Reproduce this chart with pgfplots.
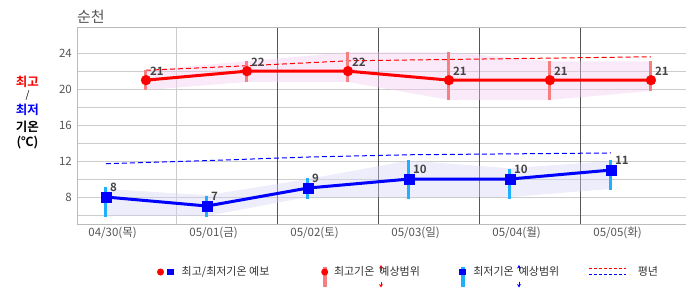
\documentclass[border=0pt]{standalone}
\usepackage{pgfplots}
\pgfplotsset{compat=1.18}
\usetikzlibrary{arrows.meta}
\usepackage{fontspec}
\setmainfont{Noto Sans CJK KR}[BoldFont={Noto Sans CJK KR Bold}]
\definecolor{hibar}{RGB}{245,128,128}
\definecolor{lobar}{RGB}{30,175,255}
\definecolor{hiband}{RGB}{240,200,240}
\definecolor{loband}{RGB}{210,210,245}
\definecolor{gridlt}{RGB}{204,204,204}
\definecolor{gridmd}{RGB}{187,187,187}
\definecolor{griddk}{RGB}{85,85,85}
\definecolor{ticktxt}{RGB}{85,85,85}
\definecolor{lbltxt}{RGB}{68,68,68}
\definecolor{legtxt}{RGB}{51,51,51}

\begin{document}
\begin{tikzpicture}
\useasboundingbox (-77bp,-71bp) rectangle (609bp,224bp);
\begin{axis}[
  at={(0,0)}, anchor=south west,
  scale only axis, width=609bp, height=196bp,
  xmin=-0.683, xmax=5.347, ymin=5, ymax=26.8,
  axis x line*=box, axis y line*=left,
  axis line style={draw=gridmd, line width=1bp},
  major tick length=0pt, minor tick length=0pt,
  xtick={-0.33,0.67,1.67,2.67,3.67,4.67},
  xticklabels={04/30(목),05/01(금),05/02(토),05/03(일),05/04(월),05/05(화)},
  minor xtick={0.307},
  xminorgrids=true,
  extra x ticks={1.307,2.307,3.307,4.307},
  extra x tick labels={},
  extra x tick style={xmajorgrids=true, major grid style={draw=griddk, line width=1bp}},
  ytick={8,12,16,20,24},
  minor ytick={6,10,14,18,22},
  ymajorgrids=true, yminorgrids=true,
  major grid style={draw=gridlt, line width=1bp},
  minor grid style={draw=gridlt, line width=1bp},
  /pgf/number format/assume math mode=true,
  yticklabel style={font=\fontsize{11.5bp}{13bp}\selectfont, text=ticktxt, inner sep=0pt, xshift=-5bp},
  xticklabel style={font=\fontsize{11.5bp}{13bp}\selectfont, text=ticktxt, inner sep=0pt, yshift=-3bp},
  legend columns=4,
  legend cell align=left,
  legend style={at={(axis description cs:0.13136,-0.2449)}, anchor=west, draw=none, fill=none,
    inner sep=0pt, outer sep=0pt,
    /tikz/every even column/.append style={column sep=0pt},
    nodes={inner sep=0pt, text=legtxt, font=\fontsize{11bp}{13bp}\selectfont}},
]
% bands
\addplot[fill=hiband, fill opacity=0.4, draw=none, forget plot] coordinates {
  (0,22.1) (1,23.1) (2,24.1) (3,24.1) (4,23.1) (5,23.1)
  (5,19.8) (4,18.8) (3,18.8) (2,20.8) (1,20.8) (0,19.9)} -- cycle;
\addplot[fill=loband, fill opacity=0.4, draw=none, forget plot] coordinates {
  (-0.396,8.9) (0.604,8.2) (1.604,10.0) (2.604,12.05) (3.604,11.2) (4.604,12.0)
  (4.604,8.9) (3.604,8.0) (2.604,8.0) (1.604,8.0) (0.604,5.9) (-0.396,5.9)} -- cycle;
% normals
\addplot[red, line width=1bp, dash pattern=on 5bp off 3bp, forget plot] coordinates {
  (0,22.1) (1,22.6) (2,23.15) (3,23.3) (4,23.45) (5,23.6)};
\addplot[blue, line width=1bp, dash pattern=on 5bp off 3bp, forget plot] coordinates {
  (-0.396,11.7) (0.604,12.05) (1.604,12.45) (2.604,12.7) (3.604,12.8) (4.604,12.9)};
% ranges
\addplot[draw=none, mark=none, forget plot,
  error bars/.cd, y dir=both, y explicit, error mark=none,
  error bar style={draw=hibar, line width=3bp}] coordinates {
  (0,21) += (0,1.1) -= (0,1.1)
  (1,22) += (0,1.1) -= (0,1.2)
  (2,22) += (0,2.1) -= (0,1.2)
  (3,21) += (0,3.1) -= (0,2.2)
  (4,21) += (0,2.1) -= (0,2.2)
  (5,21) += (0,2.1) -= (0,1.2)};
\addplot[draw=none, mark=none, forget plot,
  error bars/.cd, y dir=both, y explicit, error mark=none,
  error bar style={draw=lobar, line width=3bp}] coordinates {
  (-0.396,8) += (0,1.1) -= (0,2.2)
  (0.604,7) += (0,1.1) -= (0,1.2)
  (1.604,9) += (0,1.1) -= (0,1.2)
  (2.604,10) += (0,2.1) -= (0,2.2)
  (3.604,10) += (0,1.1) -= (0,2.2)
  (4.604,11) += (0,1.1) -= (0,2.2)};
% forecasts
\addplot[red, line width=3bp, mark=*, mark size=5bp, mark options={fill=red, draw=red, line width=0.2bp},
  nodes near coords, nodes near coords style={font=\bfseries\fontsize{11.5bp}{13bp}\selectfont, text=lbltxt,
  anchor=base west, inner sep=0pt, xshift=4bp, yshift=5bp}, forget plot] coordinates {
  (0,21) (1,22) (2,22) (3,21) (4,21) (5,21)};
\addplot[blue, line width=3bp, mark=square*, mark size=5bp, mark options={fill=blue, draw=blue, line width=0.2bp},
  nodes near coords, nodes near coords style={font=\bfseries\fontsize{11.5bp}{13bp}\selectfont, text=lbltxt,
  anchor=base west, inner sep=0pt, xshift=4bp, yshift=5.5bp}, forget plot] coordinates {
  (-0.396,8) (0.604,7) (1.604,9) (2.604,10) (3.604,10) (4.604,11)};
% legend
\addlegendimage{legend image code/.code={
  \path[draw=none, fill=none] (0,-15bp) rectangle (24.7bp,15bp);
  \fill[red, draw=none] (3.5bp,0) circle (3.5bp);
  \fill[blue, draw=none] (10bp,-3.3bp) rectangle (16.5bp,3.3bp);}}
\addlegendentry{\makebox[138.8bp][l]{최고/최저기온 예보}}
\addlegendimage{legend image code/.code={
  \path[draw=none, fill=none] (0,-15bp) rectangle (13.5bp,15bp);
  \fill[hibar, draw=none] (2.2bp,-14.7bp) rectangle (6.2bp,4.7bp);
  \fill[red, draw=none] (4.2bp,0) circle (3.5bp);
  \begin{scope}[overlay]
  \draw[red, fill=red, line width=1bp, -{Stealth[length=3.5bp,width=4bp]}] (60.5bp,1bp)--(60.5bp,7bp);
  \draw[red, fill=red, line width=1bp, -{Stealth[length=3.5bp,width=4bp]}] (60.5bp,-9.5bp)--(60.5bp,-15.5bp);
  \end{scope}}}
\addlegendentry{\makebox[124.5bp][l]{최고기온\hspace{5bp}예상범위}}
\addlegendimage{legend image code/.code={
  \path[draw=none, fill=none] (0,-15bp) rectangle (14.8bp,15bp);
  \fill[lobar, draw=none] (2.2bp,-14.7bp) rectangle (6.2bp,4.7bp);
  \fill[blue, draw=none] (0.8bp,-3.3bp) rectangle (7.5bp,3.3bp);
  \begin{scope}[overlay]
  \draw[blue, fill=blue, line width=1bp, -{Stealth[length=3.5bp,width=4bp]}] (60.5bp,1bp)--(60.5bp,7bp);
  \draw[blue, fill=blue, line width=1bp, -{Stealth[length=3.5bp,width=4bp]}] (60.5bp,-9.5bp)--(60.5bp,-15.5bp);
  \end{scope}}}
\addlegendentry{\makebox[114.7bp][l]{최저기온\hspace{5bp}예상범위}}
\addlegendimage{legend image code/.code={
  \path[draw=none, fill=none] (0,-15bp) rectangle (49bp,15bp);
  \draw[red, line width=1.5bp, dash pattern=on 3bp off 2bp] (0,3.7bp)--(37bp,3.7bp);
  \draw[blue, line width=1.5bp, dash pattern=on 3bp off 2bp] (0,-2.3bp)--(37bp,-2.3bp);}}
\addlegendentry{평년}
\end{axis}
\node[anchor=west, inner sep=0pt, text=ticktxt, font=\fontsize{15bp}{17bp}\selectfont] at (0bp,207.5bp) {순천};
\begin{scope}[every node/.style={inner sep=0pt, font=\bfseries\fontsize{12.5bp}{14bp}\selectfont}]
\node[text=red] at (-49.5bp,142bp) {최고};
\node[text=black, font=\fontsize{10bp}{12bp}\selectfont] at (-49.5bp,129bp) {/};
\node[text=blue] at (-49.5bp,114bp) {최저};
\node[text=black] at (-49.5bp,97bp) {기온};
\node[text=black] at (-49.5bp,81bp) {(℃)};
\end{scope}
\end{tikzpicture}
\end{document}
